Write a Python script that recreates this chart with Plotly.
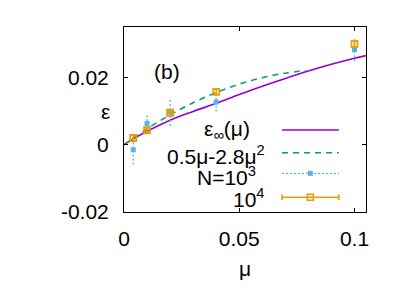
import plotly.graph_objects as go

# ---- data ----
mu_inf = [0, 0.005, 0.01, 0.02, 0.03, 0.04, 0.05, 0.06, 0.07, 0.08, 0.09, 0.1, 0.105]
eps_inf = [0, 0.0021, 0.0040, 0.0073, 0.0099, 0.0123, 0.0149, 0.0174, 0.0197, 0.0219, 0.0239, 0.0257, 0.0265]

mu_fit = [0, 0.01, 0.02, 0.03, 0.04, 0.05, 0.06, 0.07, 0.079]
eps_fit = [0, 0.00472, 0.00888, 0.01248, 0.01552, 0.0180, 0.01992, 0.02128, 0.02203]

mu_pts = [0.004, 0.01, 0.02, 0.04, 0.1]
eps_n3 = [-0.0015, 0.0063, 0.0098, 0.0127, 0.0283]
err_n3 = [0.0044, 0.0029, 0.0042, 0.0028, 0.0035]
eps_n4 = [0.0020, 0.0043, 0.0095, 0.0157, 0.0300]
err_n4 = [0.0008, 0.0007, 0.0008, 0.0007, 0.0010]

x_ticks = [0, 0.05, 0.1]
x_ticktext = ["0", "0.05", "0.1"]
y_ticks = [-0.02, 0, 0.02]
y_ticktext = ["-0.02", "0", "0.02"]

legend_labels = ["ε<sub>∞</sub>(μ)", "0.5μ-2.8μ<sup>2</sup>", "N=10<sup>3</sup>", "10<sup>4</sup>"]

PURPLE = "#9400D3"
GREEN = "#009E73"
BLUE = "#56B4E9"
ORANGE = "#E69F00"
FONT = "Liberation Sans"
FS = 21

fig = go.Figure()

fig.add_trace(go.Scatter(x=mu_inf, y=eps_inf, mode="lines", line=dict(color=PURPLE, width=1.6, shape="spline"),
                         showlegend=False, hoverinfo="skip"))
fig.add_trace(go.Scatter(x=mu_fit, y=eps_fit, mode="lines", line=dict(color=GREEN, width=1.5, dash="6px,5px", shape="spline"),
                         showlegend=False, hoverinfo="skip"))

# dotted error bars for N=10^3
ex, ey = [], []
for m, v, e in zip(mu_pts, eps_n3, err_n3):
    ex += [m, m, None]
    ey += [v - e, v + e, None]
fig.add_trace(go.Scatter(x=ex, y=ey, mode="lines", line=dict(color=BLUE, width=1.3, dash="2px,2px"),
                         showlegend=False, hoverinfo="skip"))
fig.add_trace(go.Scatter(x=mu_pts, y=eps_n3, mode="markers",
                         marker=dict(symbol="square", size=5, color=BLUE),
                         showlegend=False))
fig.add_trace(go.Scatter(x=mu_pts, y=eps_n4, mode="markers",
                         marker=dict(symbol="square-open", size=6, color=ORANGE, line=dict(width=1.8, color=ORANGE)),
                         error_y=dict(type="data", array=err_n4, color=ORANGE, thickness=1.6, width=1.5),
                         showlegend=False))

# ---- manual legend (overlay axes in plot-area fractions) ----
lx0, lx1, lxm = 0.653, 0.888, 0.770
rows = [0.443, 0.320, 0.209, 0.0795]
fig.add_trace(go.Scatter(x=[lx0, lx1], y=[rows[0]] * 2, xaxis="x2", yaxis="y2", mode="lines",
                         line=dict(color=PURPLE, width=1.6), showlegend=False, hoverinfo="skip"))
fig.add_trace(go.Scatter(x=[lx0, lx1], y=[rows[1]] * 2, xaxis="x2", yaxis="y2", mode="lines",
                         line=dict(color=GREEN, width=1.5, dash="6px,5px"), showlegend=False, hoverinfo="skip"))
fig.add_trace(go.Scatter(x=[lx0, lx1], y=[rows[2]] * 2, xaxis="x2", yaxis="y2", mode="lines",
                         line=dict(color=BLUE, width=1.3, dash="2px,2px"), showlegend=False, hoverinfo="skip"))
fig.add_trace(go.Scatter(x=[lxm], y=[rows[2]], xaxis="x2", yaxis="y2", mode="markers",
                         marker=dict(symbol="square", size=5, color=BLUE), showlegend=False, hoverinfo="skip"))
fig.add_trace(go.Scatter(x=[lx0, lx1], y=[rows[3]] * 2, xaxis="x2", yaxis="y2", mode="lines",
                         line=dict(color=ORANGE, width=1.6), showlegend=False, hoverinfo="skip"))
fig.add_trace(go.Scatter(x=[lx0, lx0, None, lx1, lx1], y=[rows[3] - 0.015, rows[3] + 0.015, None, rows[3] - 0.015, rows[3] + 0.015],
                         xaxis="x2", yaxis="y2", mode="lines",
                         line=dict(color=ORANGE, width=1.6), showlegend=False, hoverinfo="skip"))
fig.add_trace(go.Scatter(x=[lxm], y=[rows[3]], xaxis="x2", yaxis="y2", mode="markers",
                         marker=dict(symbol="square-open", size=6, color=ORANGE, line=dict(width=1.6, color=ORANGE)),
                         showlegend=False, hoverinfo="skip"))

text_right = [0.529, 0.590, 0.552, 0.590]
text_rows = [0.443, 0.308, 0.192, 0.075]
annotations = []
for lab, xr, yr in zip(legend_labels, text_right, text_rows):
    annotations.append(dict(text=lab, x=xr, y=yr, xref="paper", yref="paper", xanchor="right", yanchor="middle",
                            showarrow=False, font=dict(family=FONT, size=FS, color="black")))
annotations.append(dict(text="(b)", x=0.178, y=0.757, xref="paper", yref="paper", xanchor="center", yanchor="middle",
                        showarrow=False, font=dict(family=FONT, size=FS, color="black")))
annotations.append(dict(text="ε", x=-0.0785, y=0.541, xref="paper", yref="paper", xanchor="center", yanchor="middle",
                        showarrow=False, font=dict(family=FONT, size=FS, color="black")))
annotations.append(dict(text="μ", x=0.5, y=-0.303, xref="paper", yref="paper", xanchor="center", yanchor="middle",
                        showarrow=False, font=dict(family=FONT, size=FS, color="black")))

axis_common = dict(showline=True, linecolor="black", linewidth=1, mirror="allticks", ticks="inside", ticklen=4,
                   tickcolor="black", tickwidth=1, showgrid=False, zeroline=False,
                   tickfont=dict(family=FONT, size=FS, color="black"))

fig.update_layout(
    width=407, height=285,
    margin=dict(l=124, r=41, t=27, b=73),
    paper_bgcolor="white", plot_bgcolor="white",
    xaxis=dict(range=[0, 0.105], tickvals=x_ticks, ticktext=x_ticktext, ticklabelstandoff=8, **axis_common),
    yaxis=dict(range=[-0.02, 0.035], tickvals=y_ticks, ticktext=y_ticktext, ticklabelstandoff=10, **axis_common),
    xaxis2=dict(range=[0, 1], overlaying="x", visible=False),
    yaxis2=dict(range=[0, 1], overlaying="y", visible=False),
    annotations=annotations,
    showlegend=False,
)

fig.write_html("out.html", config={"displayModeBar": False},
               post_script="document.body.style.margin='0';")
